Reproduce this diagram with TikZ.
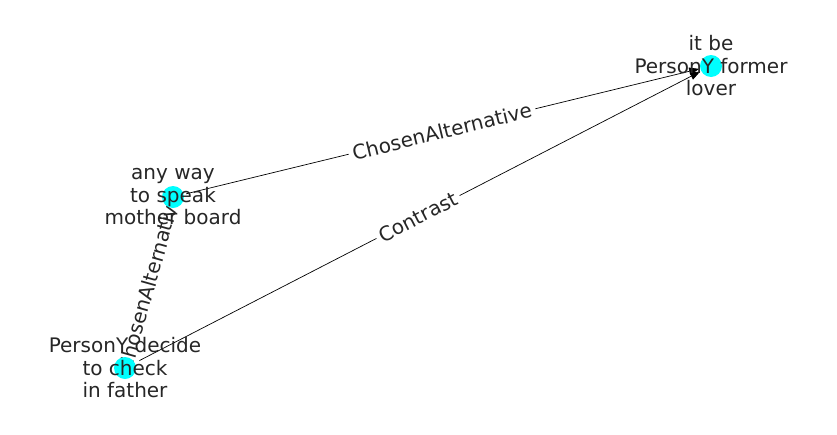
\documentclass[tikz,border=0pt]{standalone}
\usepackage{fontspec}
\setmainfont{DejaVu Sans}
\usetikzlibrary{arrows.meta}
\pgfdeclarelayer{background}
\pgfsetlayers{background,main}
\definecolor{nodecyan}{RGB}{0,255,255}

\tikzset{
  vertex/.style={circle,fill=nodecyan,minimum size=22pt,inner sep=0pt},
  vtext/.style={align=center,text=black!85,font=\fontsize{20}{22.5}\selectfont},
  rel/.style={draw=black,line width=0.7pt,-{Triangle[length=10pt,width=7.5pt]},shorten >=1pt},
  rellabel/.style={fill=white,inner sep=4pt,sloped,text=black!85,font=\fontsize{20}{22.5}\selectfont}
}

\begin{document}
\begin{tikzpicture}[x=1pt,y=-1pt]
    \useasboundingbox (0,0) rectangle (837,434);

    \node[vertex] (former) at (711,66) {};
    \node[vertex] (speak) at (173,197) {};
    \node[vertex] (check) at (125,368) {};

    \begin{pgfonlayer}{background}
    \draw[rel] (speak) -- node[rellabel] {ChosenAlternative} (former);
    \draw[rel] (check) -- node[rellabel] {Contrast} (former);
    \draw[rel] (check) -- node[rellabel] {ChosenAlternative} (speak);
    \end{pgfonlayer}

    \node[vtext] (former-txt) at (former) {it be\\PersonY former\\lover};
    \node[vtext] (speak-txt) at (speak) {any way\\to speak\\mother board};
    \node[vtext] (check-txt) at (check) {PersonY decide\\to check\\in father};
\end{tikzpicture}
\end{document}
